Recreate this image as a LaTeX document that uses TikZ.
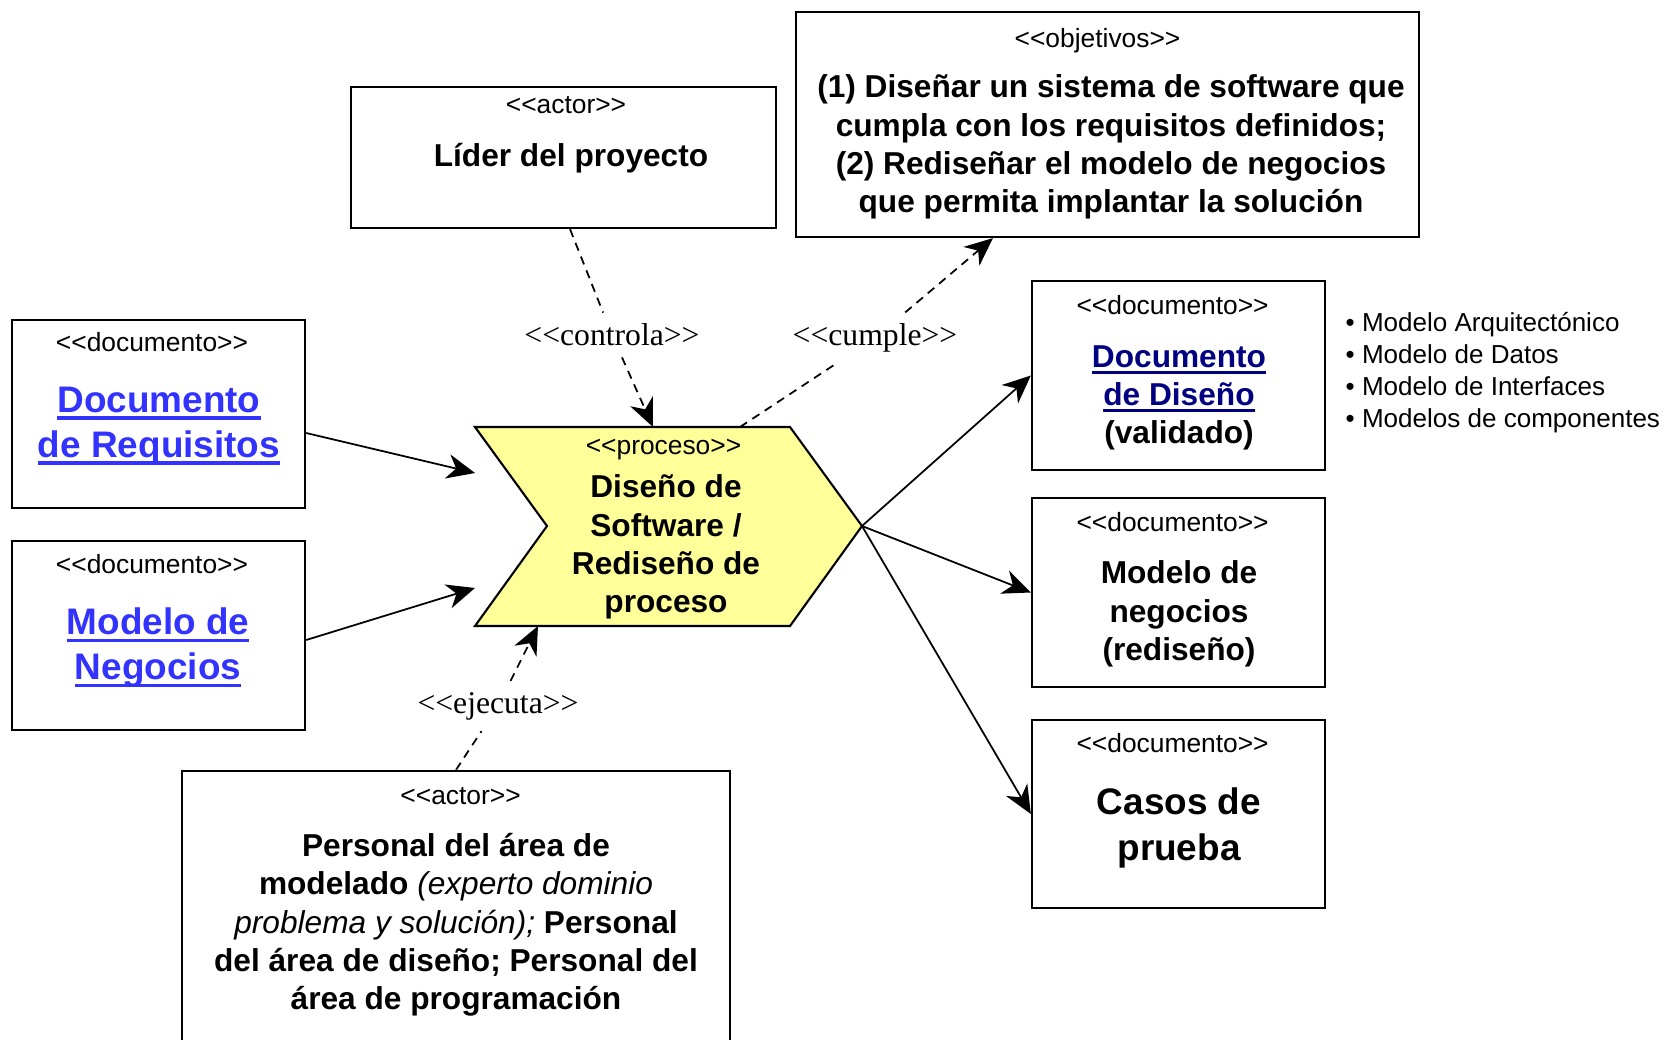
\documentclass[tikz,border=0pt]{standalone}
\usepackage{fontspec}
\setmainfont{Liberation Sans}[Ligatures=TeXOff]
\newfontfamily\seriffont{Liberation Serif}
\usepackage{xcolor}
\usetikzlibrary{arrows.meta}
\definecolor{enlaceazul}{RGB}{51,51,255}
\definecolor{enlacemarino}{RGB}{0,0,128}
\definecolor{amarilloproc}{RGB}{255,255,153}
\newcommand{\enlace}[1]{\setbox0\hbox{#1}\rlap{\rule[-0.2em]{\wd0}{0.09em}}\box0}

\begin{document}
\begin{tikzpicture}[x=0.01cm, y=-0.01cm,
  caja/.style={draw, line width=0.6pt, minimum width=2.93cm, minimum height=1.89cm, inner sep=0pt},
  estereotipo/.style={font=\fontsize{7.5}{9}\selectfont, inner sep=0pt},
  titulo/.style={font=\fontsize{9}{10.9}\selectfont\bfseries, align=center, inner sep=0pt},
  titulogrande/.style={font=\fontsize{10.5}{12.8}\selectfont\bfseries, align=center, inner sep=0pt},
  relacion/.style={font=\seriffont\fontsize{9}{10}\selectfont, inner sep=3pt},
  flecha/.style={line width=0.5pt, -{Stealth[length=8pt, width=7pt, inset=2.5pt]}},
  discontinua/.style={line width=0.5pt, dash pattern=on 2.4pt off 1.8pt}]
\useasboundingbox (0,0) rectangle (1670,1040);
\clip (0,0) rectangle (1670,1040);

\node[caja, minimum height=1.88cm] (docreq) at (158.5,414) {};
\node[caja] (modneg) at (158.5,635.5) {};
\node[caja, minimum width=4.25cm, minimum height=1.41cm] (lider) at (563.5,157.5) {};
\node[caja, minimum width=6.23cm, minimum height=2.25cm] (objetivos) at (1107.5,124.5) {};
\node[caja] (docdis) at (1178.5,375.5) {};
\node[caja] (modred) at (1178.5,592.5) {};
\node[caja, minimum height=1.88cm] (casos) at (1178.5,814) {};
\node[caja, minimum width=5.48cm, minimum height=2.89cm] (personal) at (456,915.5) {};

\filldraw[fill=amarilloproc, line width=0.6pt] (475,427) -- (790,427) -- (862,526) -- (790,626) -- (475,626) -- (547,526) -- cycle;
\coordinate (proc-punta) at (862,526);
\coordinate (proc-ent1) at (475,473);
\coordinate (proc-ent2) at (475,588);
\coordinate (proc-arr1) at (653,427);
\coordinate (proc-arr2) at (740,427);
\coordinate (proc-abajo) at (538,626);

\node[estereotipo] (docreq-st) at (152,342.5) {<<documento>>};
\node[titulogrande, text=enlaceazul] (docreq-tit) at (159,426) {\enlace{Documento}\\ \enlace{de Requisitos}};
\node[estereotipo] (modneg-st) at (152,564) {<<documento>>};
\node[titulogrande, text=enlaceazul] (modneg-tit) at (158,648) {\enlace{Modelo de}\\ \enlace{Negocios}};
\node[estereotipo] (lider-st) at (566,105) {<<actor>>};
\node[titulo] (lider-tit) at (571,158.5) {Líder del proyecto};
\node[estereotipo] (objetivos-st) at (1097.5,41) {<<objetivos>>};
\node[titulo] (objetivos-tit) at (1111,147) {(1) Diseñar un sistema de software que\\ cumpla con los requisitos definidos;\\ (2) Rediseñar el modelo de negocios\\ que permita implantar la solución};
\node[estereotipo] (proc-st) at (663.5,450) {<<proceso>>};
\node[titulo] (proc-tit) at (666,547) {Diseño de\\ Software /\\ Rediseño de\\ proceso};
\node[estereotipo] (docdis-st) at (1172.6,305) {<<documento>>};
\node[titulo] (docdis-tit) at (1179,398) {\textcolor{enlacemarino}{\enlace{Documento}}\\ \textcolor{enlacemarino}{\enlace{de Diseño}}\\ (validado)};
\node[estereotipo] (modred-st) at (1172.6,522) {<<documento>>};
\node[titulo] (modred-tit) at (1179,614) {Modelo de\\ negocios\\ (rediseño)};
\node[estereotipo] (casos-st) at (1172.6,743) {<<documento>>};
\node[titulogrande, font=\fontsize{10.5}{13.1}\selectfont\bfseries] (casos-tit) at (1179,827.5) {Casos de\\ prueba};
\node[estereotipo] (personal-st) at (460.6,796) {<<actor>>};
\node[titulo, font=\fontsize{9}{10.9}\selectfont] (personal-tit) at (456,925) {\textbf{Personal del área de}\\ \textbf{modelado} \textit{(experto dominio}\\ \textit{problema y solución);} \textbf{Personal}\\ \textbf{del área de diseño; Personal del}\\ \textbf{área de programación}};
\node[anchor=west, align=left, inner sep=0pt, font=\fontsize{7.4}{9.1}\selectfont] (modelos) at (1345,373) {• Modelo Arquitectónico\\ • Modelo de Datos\\ • Modelo de Interfaces\\ • Modelos de componentes};

\node[relacion] (controla) at (612,335) {<<controla>>};
\node[relacion] (cumple) at (875,338) {<<cumple>>};
\node[relacion] (ejecuta) at (498,706) {<<ejecuta>>};

\draw[flecha] ([yshift=-0.19cm]docreq.east) -- (proc-ent1);
\draw[flecha] ([yshift=-0.045cm]modneg.east) -- (proc-ent2);
\draw[flecha] (proc-punta) -- (docdis.west);
\draw[flecha] (proc-punta) -- (modred.west);
\draw[flecha] (proc-punta) -- (casos.west);
\draw[discontinua] ([xshift=0.065cm]lider.south) -- (controla);
\draw[discontinua, flecha] (controla) -- (proc-arr1);
\draw[discontinua] (proc-arr2) -- (cumple);
\draw[discontinua, flecha] (cumple) -- ([xshift=-1.145cm]objetivos.south);
\draw[discontinua] (personal.north) -- (ejecuta);
\draw[discontinua, flecha] (ejecuta) -- (proc-abajo);
\end{tikzpicture}
\end{document}
